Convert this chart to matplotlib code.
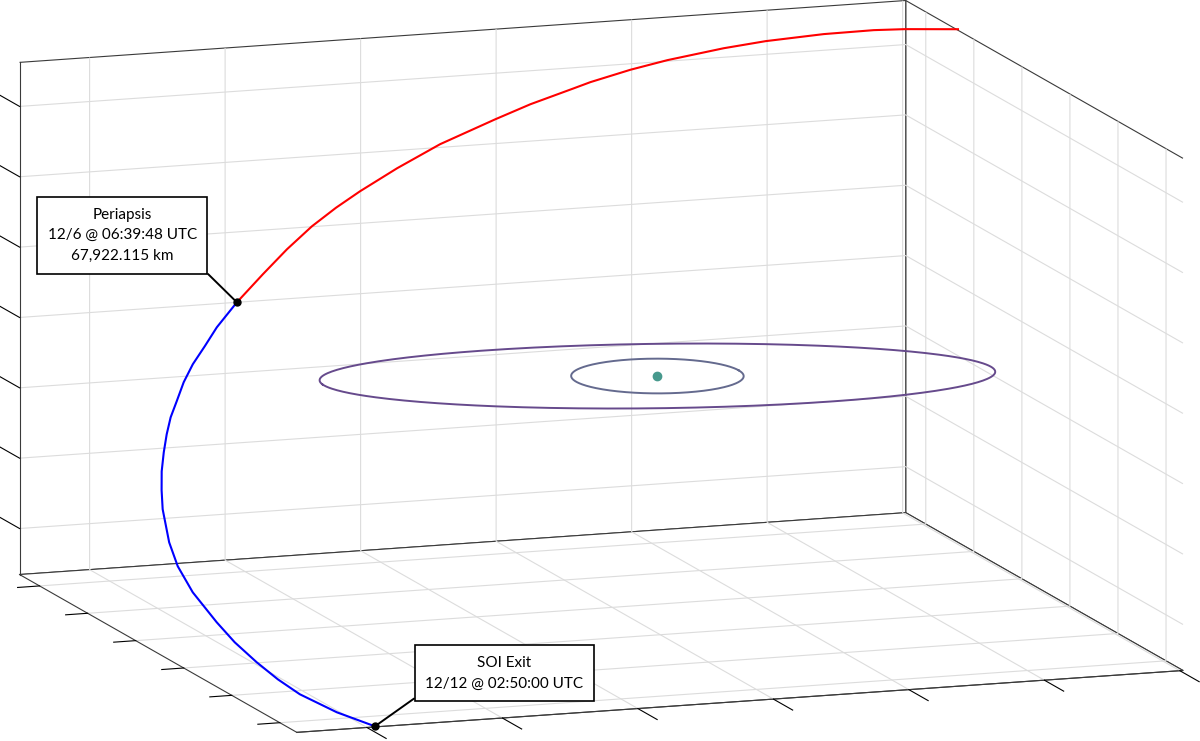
import matplotlib
matplotlib.use("Agg")
import numpy as np
import matplotlib.pyplot as plt
from mpl_toolkits.mplot3d import proj3d

# inbound leg: SOI entry -> periapsis (red)
red_x = [3.043, 2.708, 2.508, 2.179, 1.789, 1.500, 1.106, 0.841, 0.547, 0.419,
         0.095, -0.176, -0.607, -0.958, -1.268, -1.474, -1.687, -1.921, -2.155, -2.412]
red_y = [1.386, 1.546, 1.630, 1.743, 1.852, 1.913, 1.970, 1.993, 1.997, 1.990,
         1.972, 1.938, 1.871, 1.776, 1.674, 1.592, 1.492, 1.353, 1.193, 1.010]
red_z = [1.808, 1.800, 1.790, 1.762, 1.717, 1.674, 1.605, 1.550, 1.481, 1.446,
         1.359, 1.277, 1.142, 1.013, 0.890, 0.803, 0.705, 0.584, 0.454, 0.307]

# outbound leg: periapsis -> SOI exit (blue)
blue_x = [-2.412, -2.621, -2.760, -2.895, -3.012, -3.119, -3.210, -3.291, -3.369, -3.445, -3.508,
          -3.564, -3.632, -3.657, -3.648, -3.596, -3.548, -3.475, -3.398, -3.309, -3.134, -2.940]
blue_y = [1.010, 0.838, 0.697, 0.565, 0.425, 0.269, 0.138, -0.008, -0.167, -0.338, -0.514,
          -0.694, -1.021, -1.270, -1.557, -1.909, -2.149, -2.401, -2.623, -2.829, -3.107, -3.352]
blue_z = [0.307, 0.177, 0.079, -0.014, -0.107, -0.205, -0.287, -0.374, -0.466, -0.563, -0.659,
          -0.755, -0.922, -1.042, -1.172, -1.320, -1.419, -1.517, -1.600, -1.672, -1.758, -1.823]

planet = (0.0, -0.94, 0.0)
orbit_radius = [0.6, 2.35]
orbit_incl = [0.0, 6.2]      # deg
orbit_node = [0.0, 168.0]    # deg
orbit_colors = ['#646a8e', '#664a8c']

xlim = (-3.517, 3.023)
ylim = (-3.353, 2.417)
zlim = (-1.827, 1.813)
xticks = [-3, -2, -1, 0, 1, 2, 3]
yticks = [-3, -2, -1, 0, 1, 2]
zticks = [-1.5, -1.0, -0.5, 0.0, 0.5, 1.0, 1.5]

peri_label = "Periapsis\n12/6 @ 06:39:48 UTC\n67,922.115 km"
exit_label = "SOI Exit\n12/12 @ 02:50:00 UTC"

plt.rcParams['grid.color'] = '#dcdcdc'
plt.rcParams['grid.linewidth'] = 0.8

W, H = 1200, 741
fig = plt.figure(figsize=(W / 100, H / 100), dpi=100)
S = 1300
cx, cy = 583.7, 741 - 384
ax = fig.add_axes([(cx - S / 2) / W, (cy - S / 2) / H, S / W, S / H],
                  projection='3d', proj_type='ortho')
ax.patch.set_visible(False)

ax.set_xlim(*xlim)
ax.set_ylim(*ylim)
ax.set_zlim(*zlim)
ax.set_box_aspect((937.8, 837.8, 522.0), zoom=1.018)
ax.view_init(elev=11.5, azim=-109.3)

for axis in (ax.xaxis, ax.yaxis, ax.zaxis):
    axis.set_pane_color((1, 1, 1, 1))
    axis.pane.set_edgecolor('#3a3a3a')
    axis.pane.set_linewidth(0.8)
    axis.line.set_color('#3a3a3a')
    axis.line.set_linewidth(0.8)
    axis._axinfo['tick']['inward_factor'] = 0.0
    axis._axinfo['tick']['color'] = '#262626'
# negative = ticks point out of the box
ax.xaxis._axinfo['tick']['outward_factor'] = -0.87
ax.yaxis._axinfo['tick']['outward_factor'] = -0.31
ax.zaxis._axinfo['tick']['outward_factor'] = 0.87
# keep z axis on the back-left edge but point its ticks along y
ax.zaxis._get_tickdir = lambda position: 1

ax.set_xticks(xticks)
ax.set_yticks(yticks)
ax.set_zticks(zticks)
ax.set_xticklabels([])
ax.set_yticklabels([])
ax.set_zticklabels([])
ax.grid(True)

t = np.linspace(0, 2 * np.pi, 361)
for r, inc, node, col in zip(orbit_radius, orbit_incl, orbit_node, orbit_colors):
    i, o = np.radians(inc), np.radians(node)
    xo, yo = r * np.cos(t), r * np.sin(t)
    y1, z1 = yo * np.cos(i), yo * np.sin(i)
    x2 = xo * np.cos(o) - y1 * np.sin(o)
    y2 = xo * np.sin(o) + y1 * np.cos(o)
    ax.plot(planet[0] + x2, planet[1] + y2, planet[2] + z1, color=col, lw=1.4)

ax.plot([planet[0]], [planet[1]], [planet[2]], 'o', color='#47998d', ms=6)

ax.plot(red_x, red_y, red_z, color='#ff0000', lw=1.5)
ax.plot(blue_x, blue_y, blue_z, color='#0000ff', lw=1.5)

peri = (blue_x[0], blue_y[0], blue_z[0])
soi = (blue_x[-1], blue_y[-1], blue_z[-1])
ax.plot([peri[0], soi[0]], [peri[1], soi[1]], [peri[2], soi[2]], 'o', color='black', ms=5, ls='none')

M = ax.get_proj()


def to2d(p):
    xs, ys, _ = proj3d.proj_transform(p[0], p[1], p[2], M)
    return float(xs), float(ys)


box = dict(boxstyle='square,pad=0.7', fc='white', ec='black', lw=1.2)
ax.annotate(peri_label, xy=to2d(peri), xytext=(-82.6, 48.2), textcoords='offset points',
            ha='center', va='center', fontsize=11, family='Lato', linespacing=1.6, bbox=box,
            arrowprops=dict(arrowstyle='-', color='black', lw=1.4, relpos=(1, 0), shrinkA=0, shrinkB=0))
ax.annotate(exit_label, xy=to2d(soi), xytext=(93.2, 38.2), textcoords='offset points',
            ha='center', va='center', fontsize=11, family='Lato', linespacing=1.6, bbox=box,
            arrowprops=dict(arrowstyle='-', color='black', lw=1.4, relpos=(0, 0), shrinkA=0, shrinkB=0))

fig.savefig('out.png', dpi=100)
